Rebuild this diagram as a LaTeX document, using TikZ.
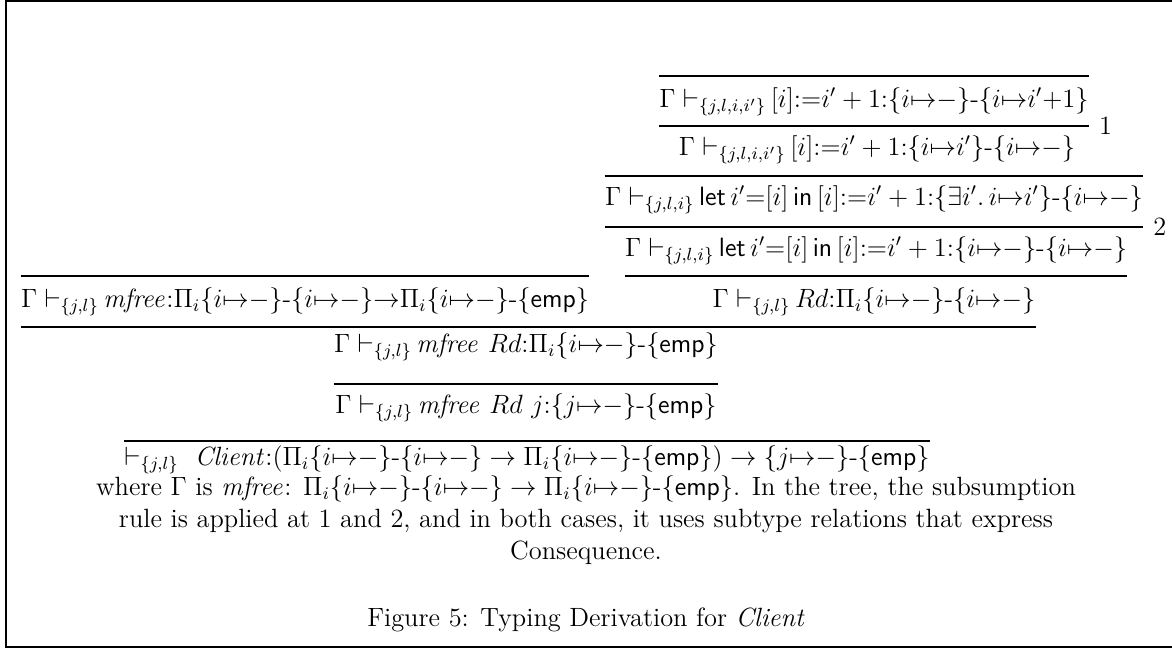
\documentclass[tikz,border=0pt,12pt]{standalone}
\usepackage{amsmath}
\usepackage{amssymb}
\usepackage{tikz}
\usetikzlibrary{positioning}
\newcommand{\pt}[2]{\{#1{\mapsto}#2\}}
\newcommand{\emp}{\{\mathsf{emp}\}}
\newcommand{\sep}{\mbox{-}}
\newcommand{\mfree}{\mathit{mfree}}
\newcommand{\Client}{\mathit{Client}}
\newcommand{\jdg}[1]{\Gamma\;{\vdash_{#1}}\,}

\begin{document}
\begin{tikzpicture}[
  x=0.4545pt, y=-0.4545pt,
  judg/.style={inner sep=0pt, text height=9pt, text depth=4pt},
  bar/.style={line width=1.1pt},
  rlab/.style={inner sep=0pt, anchor=west},
  frame/.style={line width=1.2pt}
]
\useasboundingbox (0,0) rectangle (1172,650);
\draw[frame] (1172,1) -- (6,1) -- (6,647) -- (1172,647);

% right branch
\node[judg] (t1) at (874,102) {$\jdg{\{j,l,i,i'\}}[i]{:=}i'+1{:}\pt{i}{{-}}\sep\pt{i}{i'{+}1}$};
\node[judg] (t2) at (877,150) {$\jdg{\{j,l,i,i'\}}[i]{:=}i'+1{:}\pt{i}{i'}\sep\pt{i}{{-}}$};
\node[judg] (t3) at (874,200) {$\jdg{\{j,l,i\}}\mathsf{let}\,i'{=}[i]\,\mathsf{in}\,[i]{:=}i'+1{:}\{\exists i'.\,i{\mapsto}i'\}\sep\pt{i}{{-}}$};
\node[judg] (t4) at (876,251) {$\jdg{\{j,l,i\}}\mathsf{let}\,i'{=}[i]\,\mathsf{in}\,[i]{:=}i'+1{:}\pt{i}{{-}}\sep\pt{i}{{-}}$};
\node[judg] (t5) at (874,302) {$\jdg{\{j,l\}}Rd{:}\Pi_i\pt{i}{{-}}\sep\pt{i}{{-}}$};
% left branch
\node[judg] (tl) at (305,302) {$\jdg{\{j,l\}}\mfree{:}\Pi_i\pt{i}{{-}}\sep\pt{i}{{-}}{\to}\Pi_i\pt{i}{{-}}\sep\emp$};
% trunk
\node[judg] (t6) at (526,347) {$\jdg{\{j,l\}}\mfree\ Rd{:}\Pi_i\pt{i}{{-}}\sep\emp$};
\node[judg] (t7) at (526,408) {$\jdg{\{j,l\}}\mfree\ Rd\ j{:}\pt{j}{{-}}\sep\emp$};
\node[judg] (t8) at (527,460) {$\vdash_{\{j,l\}}\ \Client{:}(\Pi_i\pt{i}{{-}}\sep\pt{i}{{-}}\to\Pi_i\pt{i}{{-}}\sep\emp)\to\pt{j}{{-}}\sep\emp$};

% inference bars
\draw[bar] (t1.west |- 0,76)  -- (t1.east |- 0,76);
\draw[bar] (t1.west |- 0,126) -- (t1.east |- 0,126) node[rlab, right=4pt] (r1) {1};
\draw[bar] (t3.west |- 0,176) -- (t3.east |- 0,176);
\draw[bar] (t3.west |- 0,227) -- (t3.east |- 0,227) node[rlab, right=4pt] (r2) {2};
\draw[bar] (t4.west |- 0,276) -- (t4.east |- 0,276);
\draw[bar] (tl.west |- 0,276) -- (tl.east |- 0,276);
\draw[bar] (tl.west |- 0,327) -- (t5.east |- 0,327);
\draw[bar] (t6.west |- 0,384) -- (t6.east |- 0,384);
\draw[bar] (t8.west |- 0,441) -- (t8.east |- 0,441);

\node[align=center] (cap) at (586,520) {where $\Gamma$ is $\mfree$: $\Pi_i\pt{i}{{-}}\sep\pt{i}{{-}}\to\Pi_i\pt{i}{{-}}\sep\emp$. In the tree, the subsumption\\
rule is applied at 1 and 2, and in both cases, it uses subtype relations that express\\
Consequence.};
\node (fig) at (586,620) {Figure 5: Typing Derivation for \textit{Client}};
\end{tikzpicture}
\end{document}
